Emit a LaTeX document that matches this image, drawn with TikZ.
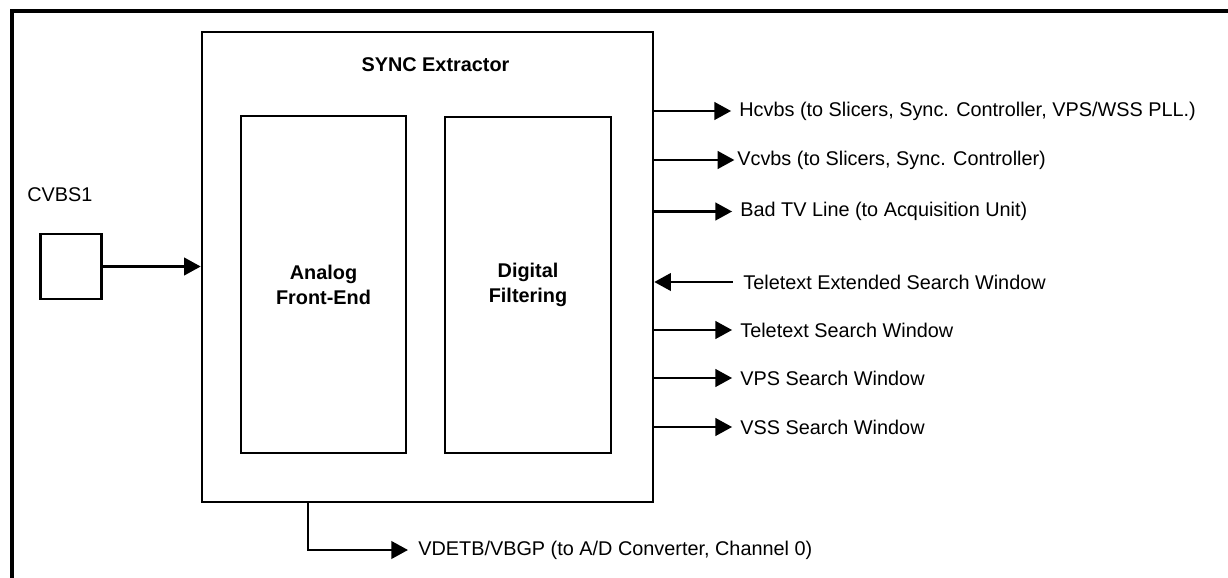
\documentclass[tikz,border=0pt]{standalone}
\usepackage{fontspec}
\setmainfont{Liberation Sans}
\usetikzlibrary{arrows.meta, positioning}

\begin{document}
\begin{tikzpicture}[
          x=0.02cm, y=-0.02cm,
          font=\fontsize{11.3}{14}\selectfont,
          blk/.style={draw, line width=1.5pt, inner sep=0pt, align=center,
                      font=\fontsize{11.3}{14.2}\selectfont\bfseries},
          lbl/.style={inner sep=0pt, anchor=west},
          arr/.style={-{Triangle[length=9.5pt, width=10pt]}, line width=1.4pt},
          outarr/.style={arr, shorten >=4.5pt}
        ]
        \useasboundingbox (0,0) rectangle (1228,578);
        % open frame round the figure
        \draw[line width=2pt] (12,578) -- (12,11) -- (1228,11);

        \node[blk, minimum width=9.02cm, minimum height=9.4cm] (sync) at (427.5,267) {};
        \node[font=\fontsize{11.3}{14}\selectfont\bfseries] (title) at (435.5,65) {SYNC Extractor};
        \node[blk, minimum width=3.3cm, minimum height=6.74cm] (afe) at (323.5,284.5) {Analog\\Front-End};
        \node[blk, minimum width=3.32cm, minimum height=6.72cm] (dig) at (528,285) {Digital\\Filtering};
        \node[blk, minimum width=1.22cm, minimum height=1.3cm] (pin) at (71,266.5) {};
        \node[lbl] (cvbs) at (27,195) {CVBS1};

        \node[lbl] (hcvbs) at (739,111) {Hcvbs (to Slicers, Sync. Controller, VPS/WSS PLL.)};
        \node[lbl] (vcvbs) at (737,160) {Vcvbs (to Slicers, Sync. Controller)};
        \node[lbl] (badtv) at (740,211.5) {Bad TV Line (to Acquisition Unit)};
        \node[lbl] (ttxext) at (743,282) {Teletext Extended Search Window};
        \node[lbl] (ttx) at (740,330) {Teletext Search Window};
        \node[lbl] (vps) at (740,378) {VPS Search Window};
        \node[lbl] (vss) at (740,427) {VSS Search Window};
        \node[lbl] (vdetb) at (418,550) {VDETB/VBGP (to A/D Converter, Channel 0)};

        \draw[arr] (pin.east) -- (sync.west |- pin.east);
        \foreach \o in {hcvbs, badtv, ttx, vps, vss}
          \draw[outarr] (sync.east |- \o.west) -- (\o.west);
        \draw[arr, shorten >=1.5pt] (sync.east |- vcvbs.west) -- (vcvbs.west);
        \draw[arr, shorten <=5.7pt] (ttxext.west) -- (sync.east |- ttxext.west);
        \draw[outarr, shorten >=5.7pt] ([xshift=-2.39cm]sync.south) |- (vdetb.west);
      \end{tikzpicture}
\end{document}
